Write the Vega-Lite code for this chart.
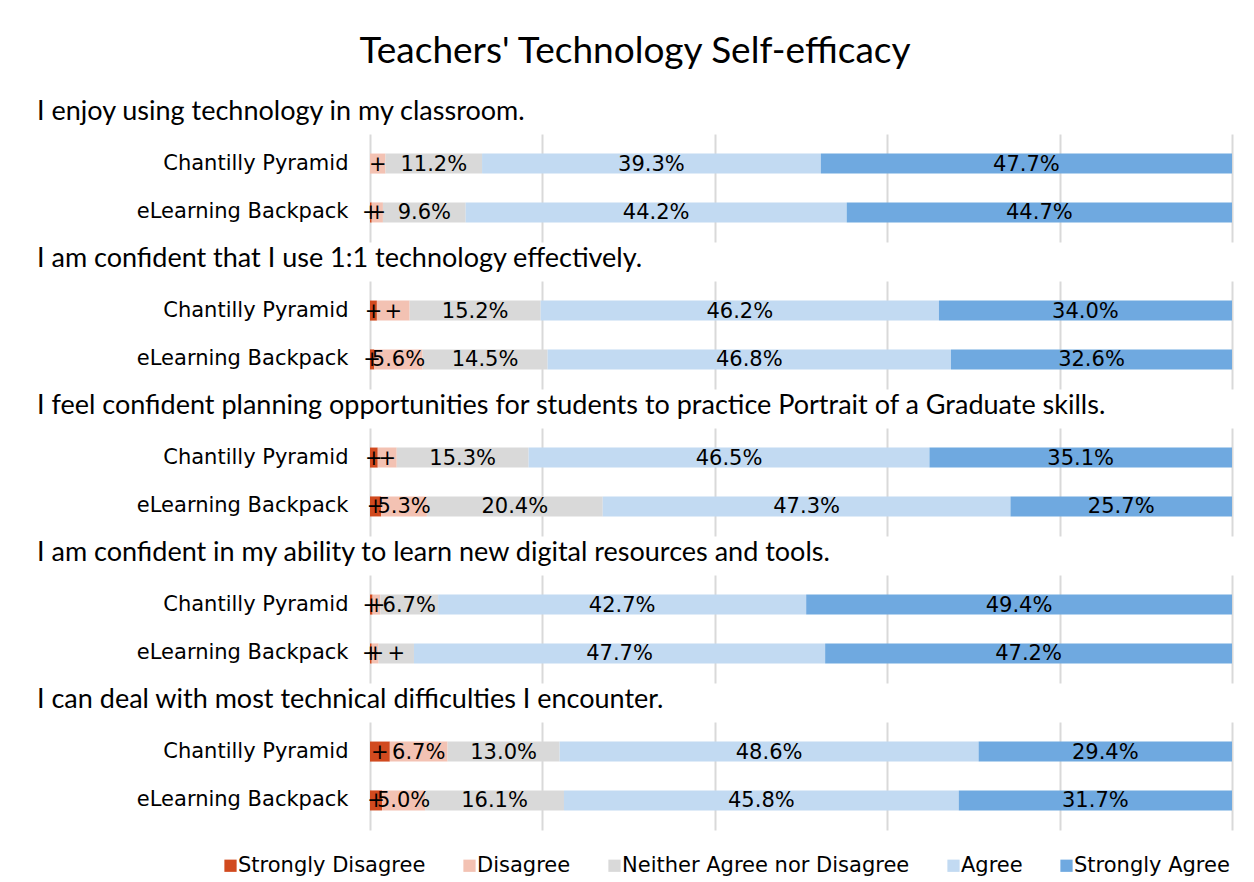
{
  "$schema": "https://vega.github.io/schema/vega-lite/v6.json",
  "padding": {"left": 37, "top": 33, "right": 5, "bottom": 5},
  "background": "white",
  "title": {"text": "Teachers' Technology Self-efficacy", "font": "Lato", "fontSize": 37, "fontWeight": "normal", "color": "black", "anchor": "middle", "frame": "group", "dx": -166, "offset": 27},
  "datasets": {
    "likert": [
      {"q": 1, "g": "Chantilly Pyramid", "level": 2, "cat": "Disagree", "v": 1.8, "lab": "+"},
      {"q": 1, "g": "Chantilly Pyramid", "level": 3, "cat": "Neither Agree nor Disagree", "v": 11.2, "lab": "11.2%"},
      {"q": 1, "g": "Chantilly Pyramid", "level": 4, "cat": "Agree", "v": 39.3, "lab": "39.3%"},
      {"q": 1, "g": "Chantilly Pyramid", "level": 5, "cat": "Strongly Agree", "v": 47.7, "lab": "47.7%"},
      {"q": 1, "g": "eLearning Backpack", "level": 1, "cat": "Strongly Disagree", "v": 0.2, "lab": "+"},
      {"q": 1, "g": "eLearning Backpack", "level": 2, "cat": "Disagree", "v": 1.3, "lab": "+"},
      {"q": 1, "g": "eLearning Backpack", "level": 3, "cat": "Neither Agree nor Disagree", "v": 9.6, "lab": "9.6%"},
      {"q": 1, "g": "eLearning Backpack", "level": 4, "cat": "Agree", "v": 44.2, "lab": "44.2%"},
      {"q": 1, "g": "eLearning Backpack", "level": 5, "cat": "Strongly Agree", "v": 44.7, "lab": "44.7%"},
      {"q": 2, "g": "Chantilly Pyramid", "level": 1, "cat": "Strongly Disagree", "v": 0.8, "lab": "+"},
      {"q": 2, "g": "Chantilly Pyramid", "level": 2, "cat": "Disagree", "v": 3.8, "lab": "+"},
      {"q": 2, "g": "Chantilly Pyramid", "level": 3, "cat": "Neither Agree nor Disagree", "v": 15.2, "lab": "15.2%"},
      {"q": 2, "g": "Chantilly Pyramid", "level": 4, "cat": "Agree", "v": 46.2, "lab": "46.2%"},
      {"q": 2, "g": "Chantilly Pyramid", "level": 5, "cat": "Strongly Agree", "v": 34.0, "lab": "34.0%"},
      {"q": 2, "g": "eLearning Backpack", "level": 1, "cat": "Strongly Disagree", "v": 0.5, "lab": "+"},
      {"q": 2, "g": "eLearning Backpack", "level": 2, "cat": "Disagree", "v": 5.6, "lab": "5.6%"},
      {"q": 2, "g": "eLearning Backpack", "level": 3, "cat": "Neither Agree nor Disagree", "v": 14.5, "lab": "14.5%"},
      {"q": 2, "g": "eLearning Backpack", "level": 4, "cat": "Agree", "v": 46.8, "lab": "46.8%"},
      {"q": 2, "g": "eLearning Backpack", "level": 5, "cat": "Strongly Agree", "v": 32.6, "lab": "32.6%"},
      {"q": 3, "g": "Chantilly Pyramid", "level": 1, "cat": "Strongly Disagree", "v": 0.9, "lab": "+"},
      {"q": 3, "g": "Chantilly Pyramid", "level": 2, "cat": "Disagree", "v": 2.2, "lab": "+"},
      {"q": 3, "g": "Chantilly Pyramid", "level": 3, "cat": "Neither Agree nor Disagree", "v": 15.3, "lab": "15.3%"},
      {"q": 3, "g": "Chantilly Pyramid", "level": 4, "cat": "Agree", "v": 46.5, "lab": "46.5%"},
      {"q": 3, "g": "Chantilly Pyramid", "level": 5, "cat": "Strongly Agree", "v": 35.1, "lab": "35.1%"},
      {"q": 3, "g": "eLearning Backpack", "level": 1, "cat": "Strongly Disagree", "v": 1.3, "lab": "+"},
      {"q": 3, "g": "eLearning Backpack", "level": 2, "cat": "Disagree", "v": 5.3, "lab": "5.3%"},
      {"q": 3, "g": "eLearning Backpack", "level": 3, "cat": "Neither Agree nor Disagree", "v": 20.4, "lab": "20.4%"},
      {"q": 3, "g": "eLearning Backpack", "level": 4, "cat": "Agree", "v": 47.3, "lab": "47.3%"},
      {"q": 3, "g": "eLearning Backpack", "level": 5, "cat": "Strongly Agree", "v": 25.7, "lab": "25.7%"},
      {"q": 4, "g": "Chantilly Pyramid", "level": 1, "cat": "Strongly Disagree", "v": 0.3, "lab": "+"},
      {"q": 4, "g": "Chantilly Pyramid", "level": 2, "cat": "Disagree", "v": 0.9, "lab": "+"},
      {"q": 4, "g": "Chantilly Pyramid", "level": 3, "cat": "Neither Agree nor Disagree", "v": 6.7, "lab": "6.7%"},
      {"q": 4, "g": "Chantilly Pyramid", "level": 4, "cat": "Agree", "v": 42.7, "lab": "42.7%"},
      {"q": 4, "g": "Chantilly Pyramid", "level": 5, "cat": "Strongly Agree", "v": 49.4, "lab": "49.4%"},
      {"q": 4, "g": "eLearning Backpack", "level": 1, "cat": "Strongly Disagree", "v": 0.2, "lab": "+"},
      {"q": 4, "g": "eLearning Backpack", "level": 2, "cat": "Disagree", "v": 0.8, "lab": "+"},
      {"q": 4, "g": "eLearning Backpack", "level": 3, "cat": "Neither Agree nor Disagree", "v": 4.1, "lab": "+"},
      {"q": 4, "g": "eLearning Backpack", "level": 4, "cat": "Agree", "v": 47.7, "lab": "47.7%"},
      {"q": 4, "g": "eLearning Backpack", "level": 5, "cat": "Strongly Agree", "v": 47.2, "lab": "47.2%"},
      {"q": 5, "g": "Chantilly Pyramid", "level": 1, "cat": "Strongly Disagree", "v": 2.3, "lab": "+"},
      {"q": 5, "g": "Chantilly Pyramid", "level": 2, "cat": "Disagree", "v": 6.7, "lab": "6.7%"},
      {"q": 5, "g": "Chantilly Pyramid", "level": 3, "cat": "Neither Agree nor Disagree", "v": 13.0, "lab": "13.0%"},
      {"q": 5, "g": "Chantilly Pyramid", "level": 4, "cat": "Agree", "v": 48.6, "lab": "48.6%"},
      {"q": 5, "g": "Chantilly Pyramid", "level": 5, "cat": "Strongly Agree", "v": 29.4, "lab": "29.4%"},
      {"q": 5, "g": "eLearning Backpack", "level": 1, "cat": "Strongly Disagree", "v": 1.4, "lab": "+"},
      {"q": 5, "g": "eLearning Backpack", "level": 2, "cat": "Disagree", "v": 5.0, "lab": "5.0%"},
      {"q": 5, "g": "eLearning Backpack", "level": 3, "cat": "Neither Agree nor Disagree", "v": 16.1, "lab": "16.1%"},
      {"q": 5, "g": "eLearning Backpack", "level": 4, "cat": "Agree", "v": 45.8, "lab": "45.8%"},
      {"q": 5, "g": "eLearning Backpack", "level": 5, "cat": "Strongly Agree", "v": 31.7, "lab": "31.7%"}
    ]
  },
  "vconcat": [
    {
      "title": {"text": "I enjoy using technology in my classroom."},
      "width": 862, "height": 108,
      "data": {"name": "likert"},
      "transform": [
        {"filter": "datum.q == 1"},
        {"stack": "v", "groupby": ["g"], "sort": [{"field": "level", "order": "ascending"}], "as": ["v0", "v1"]},
        {"calculate": "(datum.v0 + datum.v1) / 2", "as": "mid"}
      ],
      "encoding": {"y": {"field": "g", "type": "nominal", "sort": ["Chantilly Pyramid", "eLearning Backpack"], "title": null, "scale": {"paddingInner": 0.59, "paddingOuter": 0.4}}},
      "layer": [
        {"mark": {"type": "bar"}, "encoding": {"x": {"field": "v0", "type": "quantitative", "scale": {"domain": [0, 100], "nice": false}, "title": null, "axis": {"values": [0, 20, 40, 60, 80, 100]}}, "x2": {"field": "v1"}, "color": {"field": "cat", "type": "nominal", "title": null, "sort": ["Strongly Disagree", "Disagree", "Neither Agree nor Disagree", "Agree", "Strongly Agree"], "scale": {"domain": ["Strongly Disagree", "Disagree", "Neither Agree nor Disagree", "Agree", "Strongly Agree"], "range": ["#D14A1F", "#F3C2B3", "#D9D9D9", "#C2DAF2", "#6FA9E0"]}}}},
        {"mark": {"type": "text", "font": "DejaVu Sans", "fontSize": 21, "color": "black", "align": "center", "baseline": "middle", "dy": 1}, "encoding": {"x": {"field": "mid", "type": "quantitative"}, "text": {"field": "lab"}}}
      ]
    },
    {
      "title": {"text": "I am confident that I use 1:1 technology effectively."},
      "width": 862, "height": 108,
      "data": {"name": "likert"},
      "transform": [
        {"filter": "datum.q == 2"},
        {"stack": "v", "groupby": ["g"], "sort": [{"field": "level", "order": "ascending"}], "as": ["v0", "v1"]},
        {"calculate": "(datum.v0 + datum.v1) / 2", "as": "mid"}
      ],
      "encoding": {"y": {"field": "g", "type": "nominal", "sort": ["Chantilly Pyramid", "eLearning Backpack"], "title": null, "scale": {"paddingInner": 0.59, "paddingOuter": 0.4}}},
      "layer": [
        {"mark": {"type": "bar"}, "encoding": {"x": {"field": "v0", "type": "quantitative", "scale": {"domain": [0, 100], "nice": false}, "title": null, "axis": {"values": [0, 20, 40, 60, 80, 100]}}, "x2": {"field": "v1"}, "color": {"field": "cat", "type": "nominal", "title": null, "sort": ["Strongly Disagree", "Disagree", "Neither Agree nor Disagree", "Agree", "Strongly Agree"], "scale": {"domain": ["Strongly Disagree", "Disagree", "Neither Agree nor Disagree", "Agree", "Strongly Agree"], "range": ["#D14A1F", "#F3C2B3", "#D9D9D9", "#C2DAF2", "#6FA9E0"]}}}},
        {"mark": {"type": "text", "font": "DejaVu Sans", "fontSize": 21, "color": "black", "align": "center", "baseline": "middle", "dy": 1}, "encoding": {"x": {"field": "mid", "type": "quantitative"}, "text": {"field": "lab"}}}
      ]
    },
    {
      "title": {"text": "I feel confident planning opportunities for students to practice Portrait of a Graduate skills."},
      "width": 862, "height": 108,
      "data": {"name": "likert"},
      "transform": [
        {"filter": "datum.q == 3"},
        {"stack": "v", "groupby": ["g"], "sort": [{"field": "level", "order": "ascending"}], "as": ["v0", "v1"]},
        {"calculate": "(datum.v0 + datum.v1) / 2", "as": "mid"}
      ],
      "encoding": {"y": {"field": "g", "type": "nominal", "sort": ["Chantilly Pyramid", "eLearning Backpack"], "title": null, "scale": {"paddingInner": 0.59, "paddingOuter": 0.4}}},
      "layer": [
        {"mark": {"type": "bar"}, "encoding": {"x": {"field": "v0", "type": "quantitative", "scale": {"domain": [0, 100], "nice": false}, "title": null, "axis": {"values": [0, 20, 40, 60, 80, 100]}}, "x2": {"field": "v1"}, "color": {"field": "cat", "type": "nominal", "title": null, "sort": ["Strongly Disagree", "Disagree", "Neither Agree nor Disagree", "Agree", "Strongly Agree"], "scale": {"domain": ["Strongly Disagree", "Disagree", "Neither Agree nor Disagree", "Agree", "Strongly Agree"], "range": ["#D14A1F", "#F3C2B3", "#D9D9D9", "#C2DAF2", "#6FA9E0"]}}}},
        {"mark": {"type": "text", "font": "DejaVu Sans", "fontSize": 21, "color": "black", "align": "center", "baseline": "middle", "dy": 1}, "encoding": {"x": {"field": "mid", "type": "quantitative"}, "text": {"field": "lab"}}}
      ]
    },
    {
      "title": {"text": "I am confident in my ability to learn new digital resources and tools."},
      "width": 862, "height": 108,
      "data": {"name": "likert"},
      "transform": [
        {"filter": "datum.q == 4"},
        {"stack": "v", "groupby": ["g"], "sort": [{"field": "level", "order": "ascending"}], "as": ["v0", "v1"]},
        {"calculate": "(datum.v0 + datum.v1) / 2", "as": "mid"}
      ],
      "encoding": {"y": {"field": "g", "type": "nominal", "sort": ["Chantilly Pyramid", "eLearning Backpack"], "title": null, "scale": {"paddingInner": 0.59, "paddingOuter": 0.4}}},
      "layer": [
        {"mark": {"type": "bar"}, "encoding": {"x": {"field": "v0", "type": "quantitative", "scale": {"domain": [0, 100], "nice": false}, "title": null, "axis": {"values": [0, 20, 40, 60, 80, 100]}}, "x2": {"field": "v1"}, "color": {"field": "cat", "type": "nominal", "title": null, "sort": ["Strongly Disagree", "Disagree", "Neither Agree nor Disagree", "Agree", "Strongly Agree"], "scale": {"domain": ["Strongly Disagree", "Disagree", "Neither Agree nor Disagree", "Agree", "Strongly Agree"], "range": ["#D14A1F", "#F3C2B3", "#D9D9D9", "#C2DAF2", "#6FA9E0"]}}}},
        {"mark": {"type": "text", "font": "DejaVu Sans", "fontSize": 21, "color": "black", "align": "center", "baseline": "middle", "dy": 1}, "encoding": {"x": {"field": "mid", "type": "quantitative"}, "text": {"field": "lab"}}}
      ]
    },
    {
      "title": {"text": "I can deal with most technical difficulties I encounter."},
      "width": 862, "height": 108,
      "data": {"name": "likert"},
      "transform": [
        {"filter": "datum.q == 5"},
        {"stack": "v", "groupby": ["g"], "sort": [{"field": "level", "order": "ascending"}], "as": ["v0", "v1"]},
        {"calculate": "(datum.v0 + datum.v1) / 2", "as": "mid"}
      ],
      "encoding": {"y": {"field": "g", "type": "nominal", "sort": ["Chantilly Pyramid", "eLearning Backpack"], "title": null, "scale": {"paddingInner": 0.59, "paddingOuter": 0.4}}},
      "layer": [
        {"mark": {"type": "bar"}, "encoding": {"x": {"field": "v0", "type": "quantitative", "scale": {"domain": [0, 100], "nice": false}, "title": null, "axis": {"values": [0, 20, 40, 60, 80, 100]}}, "x2": {"field": "v1"}, "color": {"field": "cat", "type": "nominal", "title": null, "sort": ["Strongly Disagree", "Disagree", "Neither Agree nor Disagree", "Agree", "Strongly Agree"], "scale": {"domain": ["Strongly Disagree", "Disagree", "Neither Agree nor Disagree", "Agree", "Strongly Agree"], "range": ["#D14A1F", "#F3C2B3", "#D9D9D9", "#C2DAF2", "#6FA9E0"]}, "legend": {"orient": "none", "legendX": -150, "legendY": 721}}}},
        {"mark": {"type": "text", "font": "DejaVu Sans", "fontSize": 21, "color": "black", "align": "center", "baseline": "middle", "dy": 1}, "encoding": {"x": {"field": "mid", "type": "quantitative"}, "text": {"field": "lab"}}}
      ]
    }
  ],
  "spacing": 3,
  "config": {
    "view": {"stroke": null},
    "title": {"font": "Lato", "fontSize": 27, "fontWeight": "normal", "color": "black", "anchor": "start", "frame": "group", "dx": -333, "offset": 8},
    "axisY": {"domain": false, "ticks": false, "labelFont": "DejaVu Sans", "labelFontSize": 21, "labelColor": "black", "labelPadding": 22, "labelLimit": 400},
    "axisX": {"domain": false, "ticks": false, "labels": false, "grid": true, "gridColor": "#D9D9D9", "gridWidth": 2},
    "legend": {"direction": "horizontal", "symbolType": "square", "symbolSize": 150, "symbolStrokeWidth": 0, "symbolOpacity": 1, "labelFont": "DejaVu Sans", "labelFontSize": 21, "labelColor": "black", "labelLimit": 400, "columnPadding": 33, "labelOffset": -3}
  }
}
